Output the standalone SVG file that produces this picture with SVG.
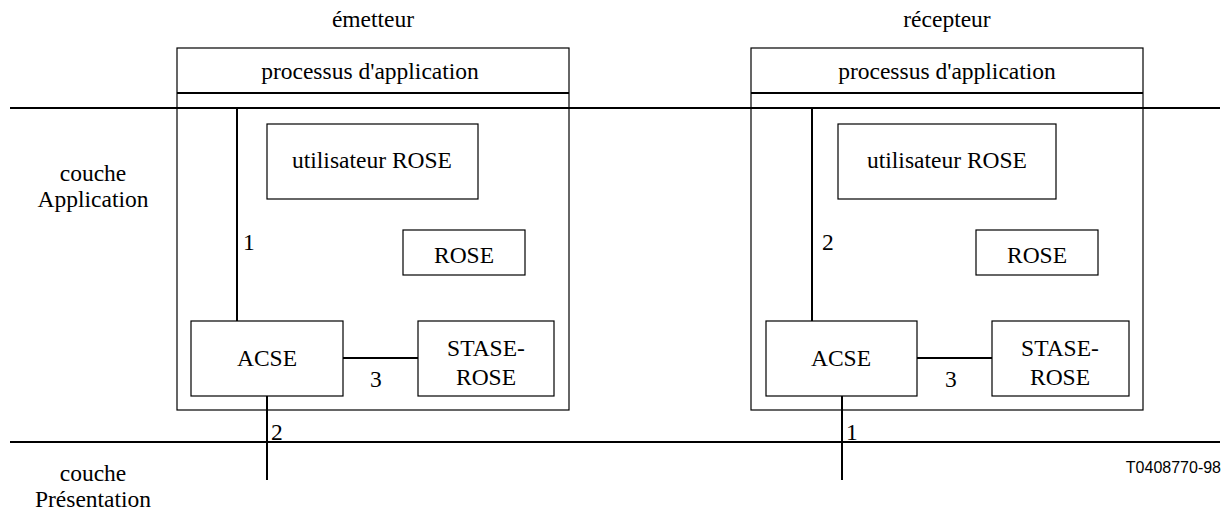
<svg xmlns="http://www.w3.org/2000/svg" width="1229" height="515" viewBox="0 0 1229 515">
<style>
text{font-family:"Liberation Serif","Times New Roman",serif;font-size:23.5px;fill:#000}
.c{text-anchor:middle}
.box{fill:none;stroke:#000;stroke-width:1.2}
.thick{stroke:#000;stroke-width:2;fill:none}
.ref{font-family:"Liberation Sans",Arial,sans-serif;font-size:16px;text-anchor:end}
</style>
<rect width="1229" height="515" fill="#fff"/>
<g id="layers">
<line class="thick" x1="10" y1="108" x2="1220" y2="108"/>
<line class="thick" x1="10" y1="442" x2="1220" y2="442"/>
<text class="c" x="93" y="181">couche</text>
<text class="c" x="93" y="207">Application</text>
<text class="c" x="93" y="481">couche</text>
<text class="c" x="93" y="507">Présentation</text>
<text class="ref" x="1221" y="473">T0408770-98</text>
</g>
<g id="emetteur">
<text class="c" x="373" y="27">émetteur</text>
<rect class="box" x="177" y="48" width="392" height="362"/>
<line class="thick" x1="177" y1="93" x2="569" y2="93"/>
<text class="c" x="370" y="79">processus d'application</text>
</g>
<g id="recepteur">
<text class="c" x="947" y="27">récepteur</text>
<rect class="box" x="751" y="48" width="392" height="362"/>
<line class="thick" x1="751" y1="93" x2="1143" y2="93"/>
<text class="c" x="947" y="79">processus d'application</text>
</g>
<g id="user-left"><rect class="box" x="267" y="124" width="211" height="75"/><text class="c" x="372" y="168">utilisateur ROSE</text></g>
<g id="rose-left"><rect class="box" x="403" y="230" width="122" height="45"/><text class="c" x="464" y="263">ROSE</text></g>
<g id="acse-left"><rect class="box" x="191" y="321" width="152" height="75"/><text class="c" x="267" y="366">ACSE</text></g>
<g id="stase-left"><rect class="box" x="418" y="321" width="136" height="75"/><text class="c" x="486" y="356">STASE-</text><text class="c" x="486" y="385">ROSE</text></g>
<g id="user-right"><rect class="box" x="838" y="124" width="218" height="75"/><text class="c" x="947" y="168">utilisateur ROSE</text></g>
<g id="rose-right"><rect class="box" x="976" y="230" width="122" height="45"/><text class="c" x="1037" y="263">ROSE</text></g>
<g id="acse-right"><rect class="box" x="766" y="321" width="151" height="75"/><text class="c" x="841" y="366">ACSE</text></g>
<g id="stase-right"><rect class="box" x="992" y="321" width="137" height="75"/><text class="c" x="1060" y="356">STASE-</text><text class="c" x="1060" y="385">ROSE</text></g>
<g id="connectors">
<line class="thick" x1="237" y1="108" x2="237" y2="321"/>
<line class="thick" x1="343" y1="358" x2="418" y2="358"/>
<line class="thick" x1="267" y1="396" x2="267" y2="480"/>
<line class="thick" x1="812" y1="108" x2="812" y2="321"/>
<line class="thick" x1="917" y1="358" x2="992" y2="358"/>
<line class="thick" x1="842" y1="396" x2="842" y2="480"/>
<text x="243" y="250">1</text>
<text x="370" y="387">3</text>
<text x="271" y="440">2</text>
<text x="822" y="250">2</text>
<text x="945" y="387">3</text>
<text x="846" y="440">1</text>
</g>
</svg>
